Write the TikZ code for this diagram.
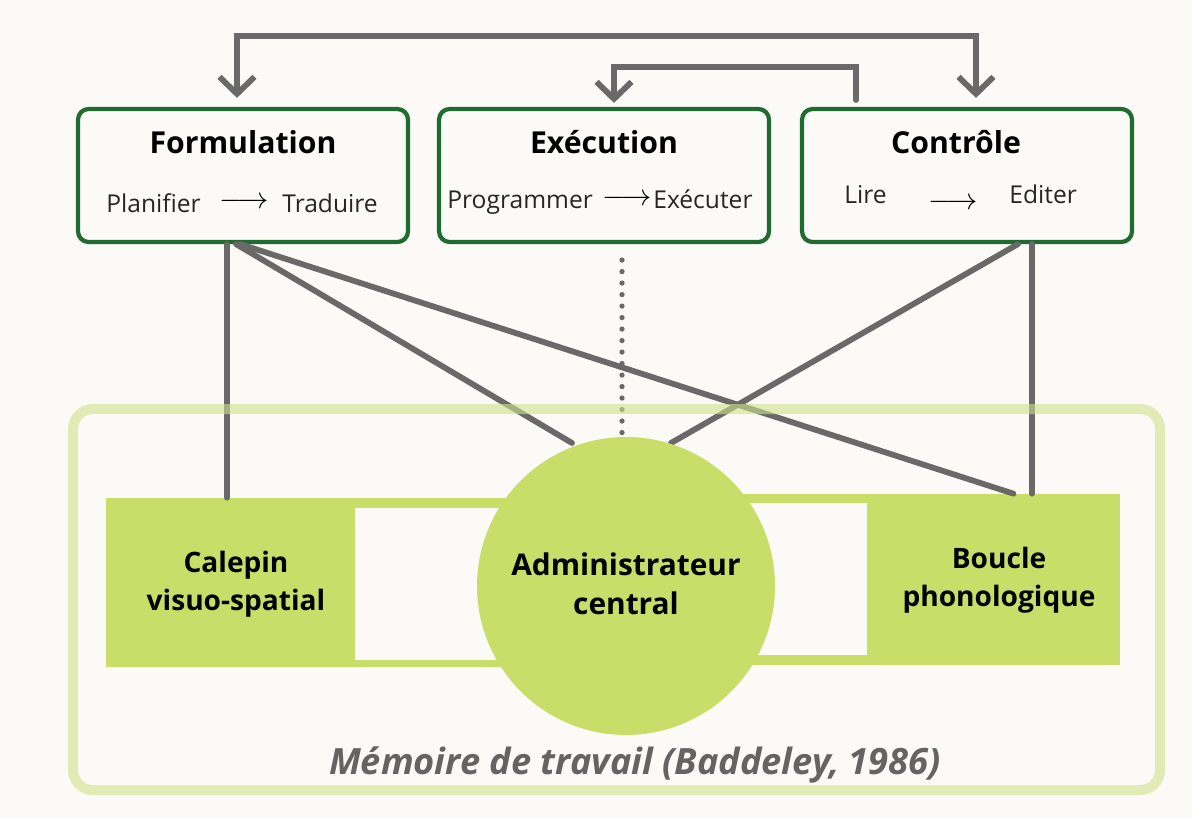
\documentclass[tikz,border=0pt]{standalone}
\usepackage{fontspec}
\setmainfont{Open Sans}
\usetikzlibrary{arrows.meta,positioning,calc}
\definecolor{paper}{RGB}{252,250,247}
\definecolor{boxgreen}{RGB}{32,108,48}
\definecolor{memgreen}{RGB}{200,222,105}
\definecolor{framegreen}{RGB}{206,226,140}
\definecolor{linkgray}{RGB}{105,105,105}
\definecolor{titlegray}{RGB}{100,100,100}

\begin{document}
\begin{tikzpicture}[x=0.02cm,y=-0.02cm,
  task/.style={draw=boxgreen,line width=2.4pt,rounded corners=6pt,fill=paper,
    minimum width=6.6cm,minimum height=2.66cm},
  title/.style={font=\bfseries\fontsize{17.2}{20}\selectfont,anchor=base,inner sep=0},
  sub/.style={font=\fontsize{14}{17}\selectfont,text=black!85,anchor=base west,inner sep=0},
  arr/.style={font=\fontsize{18}{20}\selectfont,inner sep=0},
  module/.style={fill=memgreen,inner sep=0},
  modtext/.style={font=\bfseries\fontsize{16}{21.5}\selectfont,align=center},
  link/.style={draw=linkgray,line width=3.3pt,line cap=round},
  barb/.style={-{Straight Barb[length=0.34cm,width=0.7cm]}},
  dots/.style={draw=linkgray,line width=3pt,line cap=round,dash pattern=on 0pt off 0.23cm}]
\useasboundingbox[fill=paper] (0,0) rectangle (1192,818);

% the three processes
\node[task] (F) at (243,175.5) {};
\node[task] (E) at (604,175.5) {};
\node[task] (C) at (967,175.5) {};
\node[title] (Ft) at (243,153) {Formulation};
\node[title] (Et) at (604,153) {Exécution};
\node[title] (Ct) at (956,153) {Contrôle};
\node[sub] (F1) at (106,212) {Planifier};
\node[arr] (Fa) at (244,203) {$\longrightarrow$};
\node[sub] (F2) at (282,212) {Traduire};
\node[sub] (E1) at (447,208) {Programmer};
\node[arr] (Ea) at (627,200) {$\longrightarrow$};
\node[sub] (E2) at (653,208) {Exécuter};
\node[sub] (C1) at (844,203) {Lire};
\node[arr] (Ca) at (953,204) {$\longrightarrow$};
\node[sub] (C2) at (1009,203) {Editer};

% memory modules
\node[module,minimum width=4.98cm,minimum height=3.38cm] (V) at (230.5,582.5) {};
\node[module,minimum width=5.06cm,minimum height=3.42cm] (B) at (993.5,579.5) {};

% links between processes and memory
\draw[link] ([xshift=-0.32cm]F.south) -- ([xshift=-0.32cm]F.south |- V.north);
\draw[link] ([xshift=-0.14cm]F.south) -- (572,443);
\draw[link] ([xshift=-0.06cm]F.south) -- ([xshift=0.4cm]B.north);
\draw[link] ([xshift=1.02cm]C.south) -- (671,443);
\draw[link] ([xshift=1.3cm]C.south) -- ([xshift=1.3cm]C.south |- B.north);
\draw[dots] ([xshift=0.36cm,yshift=-0.32cm]E.south) -- (622,437);

% bars joining the modules
\fill[memgreen] (V.north east) rectangle (626,667);
\fill[paper] (355,508) rectangle (626,660);
\fill[memgreen] (626,494) rectangle (B.south west);
\fill[paper] (626,503) rectangle (867,655);
\node[circle,fill=memgreen,minimum size=5.96cm,inner sep=0] (A) at (626,586) {};

\node[modtext] (Vt) at (236,584) {Calepin\\visuo-spatial};
\node[modtext,font=\bfseries\fontsize{17}{22}\selectfont] (At) at (626,584) {Administrateur\\central};
\node[modtext] (Bt) at (999,580) {Boucle\\phonologique};

% frame of working memory
\draw[draw=framegreen,line width=0.2cm,rounded corners=0.4cm,opacity=0.6] (73,409) rectangle (1160,790);
\node[font=\bfseries\itshape\fontsize{20.6}{24}\selectfont,text=titlegray] (M) at (635,765) {Mémoire de travail (Baddeley, 1986)};

% feedback arrows on top
\draw[link,{Straight Barb[length=0.34cm,width=0.7cm]}-{Straight Barb[length=0.34cm,width=0.7cm]}]
  ([xshift=0.18cm,yshift=0.18cm]C.north) -- ++(0,-62) -| ([xshift=-0.12cm,yshift=0.18cm]F.north);
\coordinate (back) at (856,100);
\draw[link,barb] (back) -- (856,67) -| ([xshift=0.2cm,yshift=0.08cm]E.north);
\end{tikzpicture}
\end{document}
